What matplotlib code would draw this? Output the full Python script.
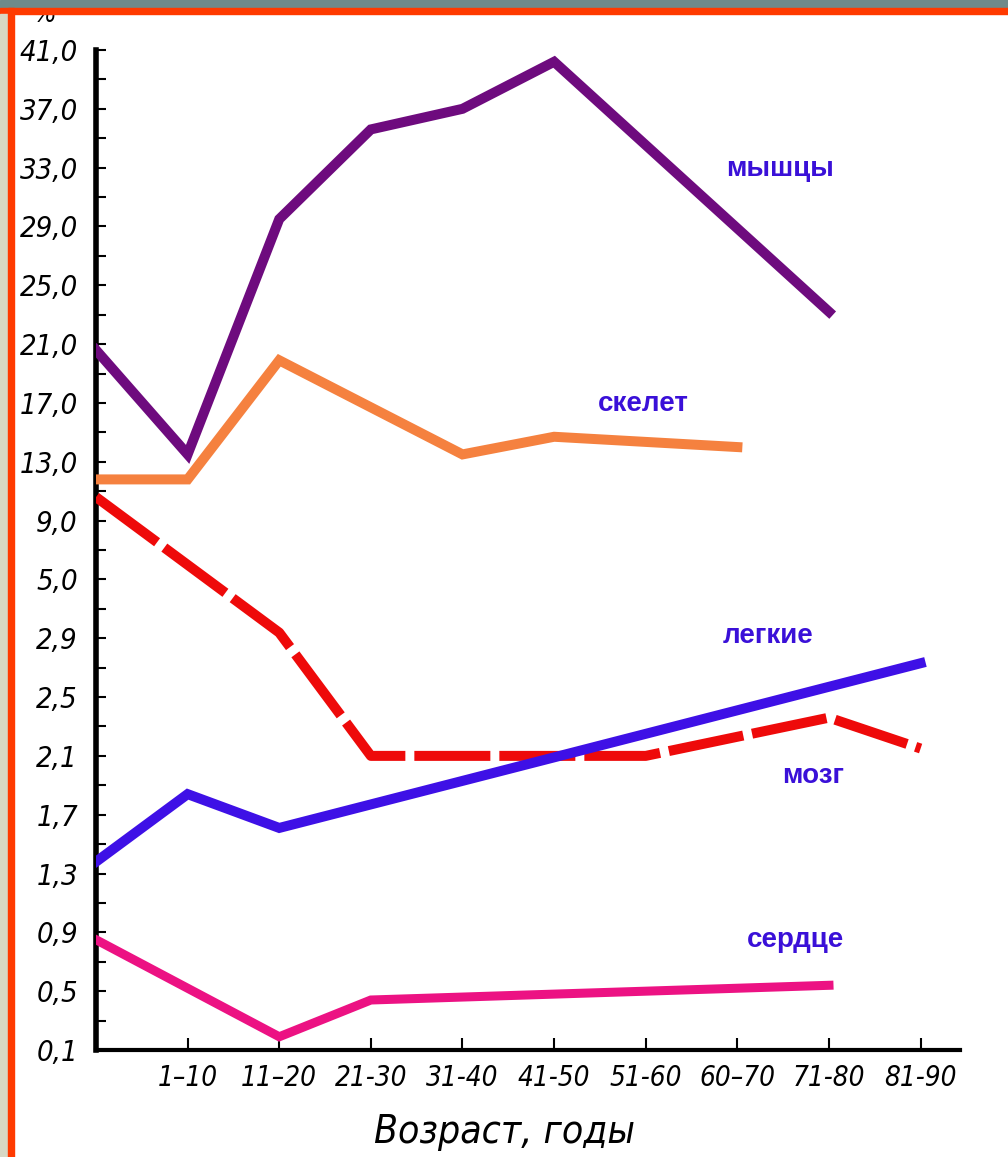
import numpy as np
import matplotlib
matplotlib.use("Agg")
import matplotlib.pyplot as plt
from matplotlib import font_manager as fm
from matplotlib.patches import Rectangle
from matplotlib.ticker import FixedLocator, FixedFormatter

# y axis is drawn with evenly spaced, non-linear levels
levels = [0.1, 0.5, 0.9, 1.3, 1.7, 2.1, 2.5, 2.9, 5.0, 9.0,
          13.0, 17.0, 21.0, 25.0, 29.0, 33.0, 37.0, 41.0]
age_labels = ["1–10", "11–20", "21-30", "31-40", "41-50",
              "51-60", "60–70", "71-80", "81-90"]

# x positions are age groups (0 = birth)
muscle_x = [0, 1, 2, 3, 4, 5, 8]
muscle_y = [20.6, 13.5, 29.5, 35.6, 37.0, 40.2, 23.2]

skeleton_x = [0, 1, 2, 4, 5, 7]
skeleton_y = [11.8, 11.8, 19.9, 13.5, 14.7, 14.0]

brain_x = [0, 2, 3, 6, 8, 9]
brain_y = [10.6, 3.1, 2.1, 2.1, 2.36, 2.15]

lungs_x = [0, 1, 2, 9]
lungs_y = [1.38, 1.84, 1.61, 2.73]

heart_x = [0, 2, 3, 8]
heart_y = [0.85, 0.19, 0.44, 0.54]

lvl_idx = np.arange(len(levels), dtype=float)


def forward(v):
    return np.interp(v, levels, lvl_idx)


def inverse(i):
    return np.interp(i, lvl_idx, levels)


# look for a narrow font for the hand-lettered italic labels
narrow = [f for f in fm.fontManager.ttflist
          if "Narrow" in f.name or "Condensed" in f.name
          or f.stretch in ("condensed", "semi-condensed")]
narrow_it = [f for f in narrow if f.style in ("italic", "oblique")
             and f.weight in (400, "normal", "regular")]
if narrow_it:
    tick_fp = dict(fname=narrow_it[0].fname)
    ysize, xsize, lblsize = 21, 20, 28
elif narrow:
    tick_fp = dict(fname=narrow[0].fname)
    ysize, xsize, lblsize = 21, 20, 28
else:
    tick_fp = dict(family="DejaVu Sans", style="italic")
    ysize, xsize, lblsize = 18, 17, 25
tick_prop = fm.FontProperties(**tick_fp)

W, H = 1008, 1157
fig = plt.figure(figsize=(W / 100, H / 100), dpi=100)
fig.patch.set_facecolor("white")

ax = fig.add_axes([96 / W, (H - 1050) / H, 864 / W, 1000 / H])
ax.set_yscale("function", functions=(forward, inverse))
ax.set_xlim(0, 9.43)
ax.set_ylim(0.1, 41.0)

lw = 7.2
ax.plot(muscle_x, muscle_y, color="#6e0b7e", lw=lw, solid_joinstyle="miter", zorder=3)
ax.plot(skeleton_x, skeleton_y, color="#f5813f", lw=lw, solid_joinstyle="miter", zorder=3)
ax.plot(lungs_x, lungs_y, color="#3e10e6", lw=lw, solid_joinstyle="miter", zorder=4)
ax.plot(brain_x, brain_y, color="#ee0a0a", lw=lw, dashes=(7.6, 0.9),
        dash_capstyle="butt", zorder=3)
ax.plot(heart_x, heart_y, color="#ec1283", lw=6.5, solid_joinstyle="miter", zorder=3)

lab_kw = dict(color="#3a10d8", fontsize=20, fontweight="bold",
              family="Liberation Sans", ha="center", va="center")
ax.text(7.47, 32.9, "мышцы", **lab_kw)
ax.text(5.97, 16.9, "скелет", **lab_kw)
ax.text(7.33, 2.99, "легкие", **lab_kw)
ax.text(7.83, 1.96, "мозг", **lab_kw)
ax.text(7.63, 0.85, "сердце", **lab_kw)

for s in ["top", "right"]:
    ax.spines[s].set_visible(False)
ax.spines["left"].set_linewidth(4)
ax.spines["bottom"].set_linewidth(3)

ax.yaxis.set_major_locator(FixedLocator(levels))
ax.yaxis.set_major_formatter(FixedFormatter([f"{v:.1f}".replace(".", ",") for v in levels]))
ax.yaxis.set_minor_locator(FixedLocator(inverse(np.arange(0.5, len(levels) - 1, 1.0))))
ax.tick_params(axis="y", which="both", direction="in", length=7, width=1.5, pad=13)

ax.set_xticks(np.arange(1, 10))
ax.set_xticklabels(age_labels)
ax.tick_params(axis="x", direction="in", length=9, width=1.5, pad=10)

for t in ax.get_yticklabels():
    t.set_fontproperties(tick_prop)
    t.set_fontsize(ysize)
for t in ax.get_xticklabels():
    t.set_fontproperties(tick_prop)
    t.set_fontsize(xsize)

fig.text(505 / W, 1 - 1132 / H, "Возраст, годы", fontproperties=tick_prop,
         fontsize=lblsize, ha="center", va="center")

# unit sign at the top, mostly hidden behind the frame
fig.text(45 / W, 1 - 15 / H, "%", fontproperties=tick_prop,
         fontsize=19, ha="center", va="center", zorder=1)

# slide frame
fig.patches.append(Rectangle((0, 1 - 8 / H), 1, 8 / H, transform=fig.transFigure,
                             color="#6f8a8a", zorder=10))
fig.patches.append(Rectangle((0, 1 - 14 / H), 1, 6 / H, transform=fig.transFigure,
                             color="#ff3a00", zorder=10))
fig.patches.append(Rectangle((0, 0), 8 / W, 1 - 14 / H, transform=fig.transFigure,
                             color="#d8d8c4", zorder=10))
fig.patches.append(Rectangle((8 / W, 0), 6 / W, 1 - 8 / H, transform=fig.transFigure,
                             color="#ff3a00", zorder=10))

fig.savefig("out.png", dpi=100)
